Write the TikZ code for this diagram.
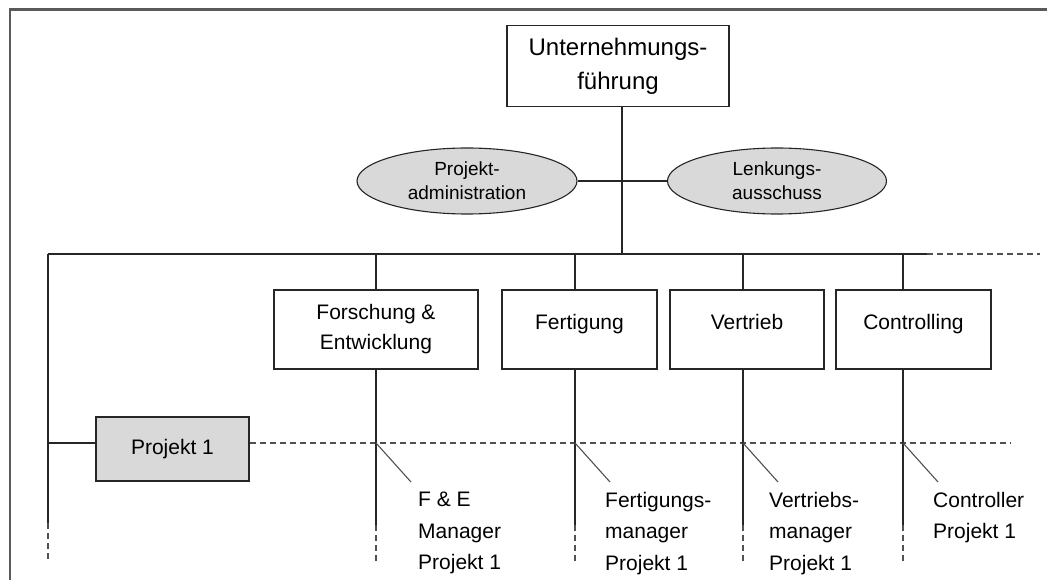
\documentclass[tikz,border=0pt]{standalone}
\usepackage{fontspec}
\setmainfont{Liberation Sans}
\usetikzlibrary{shapes.geometric}
\definecolor{linecol}{HTML}{262626}
\definecolor{framecol}{HTML}{5A5A5A}
\definecolor{dashcol}{HTML}{505050}
\definecolor{boxfill}{HTML}{D9D9D9}
\begin{document}
\begin{tikzpicture}[x=1pt,y=-1pt,
  conn/.style={draw=linecol, line width=1.3pt},
  dashline/.style={draw=dashcol, line width=1.3pt, dash pattern=on 6pt off 4pt},
  slant/.style={draw=dashcol, line width=1.1pt},
  unitbox/.style={draw=linecol, line width=1.3pt, fill=white, inner sep=0pt,
    minimum height=79pt, align=center, font=\fontsize{21}{30}\selectfont},
  onerow/.style={text height=8pt, text depth=8pt},
  oval/.style={ellipse, draw=linecol, line width=1.1pt, fill=boxfill, inner sep=0pt,
    minimum width=220pt, minimum height=66pt, align=center, font=\fontsize{19}{24}\selectfont},
  role/.style={anchor=north west, inner sep=0pt, align=left, font=\fontsize{21}{31.5}\selectfont}
]
\useasboundingbox (0,0) rectangle (1047,580);

% outer frame
\draw[framecol, line width=2.2pt] (10,581) -- (10,9.5) -- (1048,9.5);

% top management and staff units
\node[unitbox, minimum width=222pt, minimum height=81pt, font=\fontsize{24}{34}\selectfont]
  (top) at (618,66) {Unternehmungs-\\führung};
\node[oval] (adm) at (467,181) {Projekt-\\administration};
\node[oval, minimum width=219pt] (lenk) at (777,181) {Lenkungs-\\ausschuss};

% main bus
\coordinate (hub) at (622,254);
\coordinate (busL) at (48,254);
\coordinate (busR) at (927,254);
\coordinate (busEnd) at (1040,254);
\draw[conn] (top.south -| hub) -- (hub);
\draw[conn] (adm.east) -- (lenk.west);
\draw[conn] (busL) -- (busR);
\draw[dashline] (busR) -- (busEnd);

% functional departments
\node[unitbox, minimum width=204pt] (fe) at (376,329.5) {Forschung \&\\Entwicklung};
\node[unitbox, onerow, minimum width=155pt] (fert) at (579.5,329.5) {Fertigung};
\node[unitbox, onerow, minimum width=154pt] (vert) at (747,329.5) {Vertrieb};
\node[unitbox, onerow, minimum width=155pt] (contr) at (913.5,329.5) {Controlling};

\coordinate (t1) at (376,254);
\coordinate (t2) at (575,254);
\coordinate (t3) at (743,254);
\coordinate (t4) at (903,254);
\draw[conn] (t1) -- (fe.north -| t1);
\draw[conn] (t2) -- (fert.north -| t2);
\draw[conn] (t3) -- (vert.north -| t3);
\draw[conn] (t4) -- (contr.north -| t4);

% project row
\node[unitbox, fill=boxfill, minimum width=153pt, minimum height=64pt] (p1) at (172.5,449) {Projekt 1};
\coordinate (pj) at (48,443);
\coordinate (pend) at (1010,443);
\draw[conn] (pj) -- (p1.west |- pj);
\draw[dashline] (p1.east |- pend) -- (pend);

% left vertical
\coordinate (lowL) at (48,523);
\coordinate (endL) at (48,561);
\draw[conn] (busL) -- (lowL);
\draw[dashline] (lowL) -- (endL);

% department verticals
\coordinate (u1) at (376,525); \coordinate (v1) at (376,562);
\coordinate (u2) at (575,525); \coordinate (v2) at (575,562);
\coordinate (u3) at (743,525); \coordinate (v3) at (743,562);
\coordinate (u4) at (903,525); \coordinate (v4) at (903,562);
\draw[conn] (fe.south -| u1) -- (u1);
\draw[conn] (fert.south -| u2) -- (u2);
\draw[conn] (vert.south -| u3) -- (u3);
\draw[conn] (contr.south -| u4) -- (u4);
\draw[dashline] (u1) -- (v1);
\draw[dashline] (u2) -- (v2);
\draw[dashline] (u3) -- (v3);
\draw[dashline] (u4) -- (v4);

% project roles
\coordinate (x1) at (376,443); \coordinate (s1) at (411,482);
\coordinate (x2) at (575,443); \coordinate (s2) at (610,482);
\coordinate (x3) at (743,443); \coordinate (s3) at (778,482);
\coordinate (x4) at (903,443); \coordinate (s4) at (938,482);
\draw[slant] (x1) -- (s1);
\draw[slant] (x2) -- (s2);
\draw[slant] (x3) -- (s3);
\draw[slant] (x4) -- (s4);

\node[role] (r1) at (418,492) {F \& E\\Manager\\Projekt 1};
\node[role] (r2) at (605,492) {Fertigungs-\\manager\\Projekt 1};
\node[role] (r3) at (769,492) {Vertriebs-\\manager\\Projekt 1};
\node[role] (r4) at (933,492) {Controller\\Projekt 1};
\end{tikzpicture}
\end{document}
